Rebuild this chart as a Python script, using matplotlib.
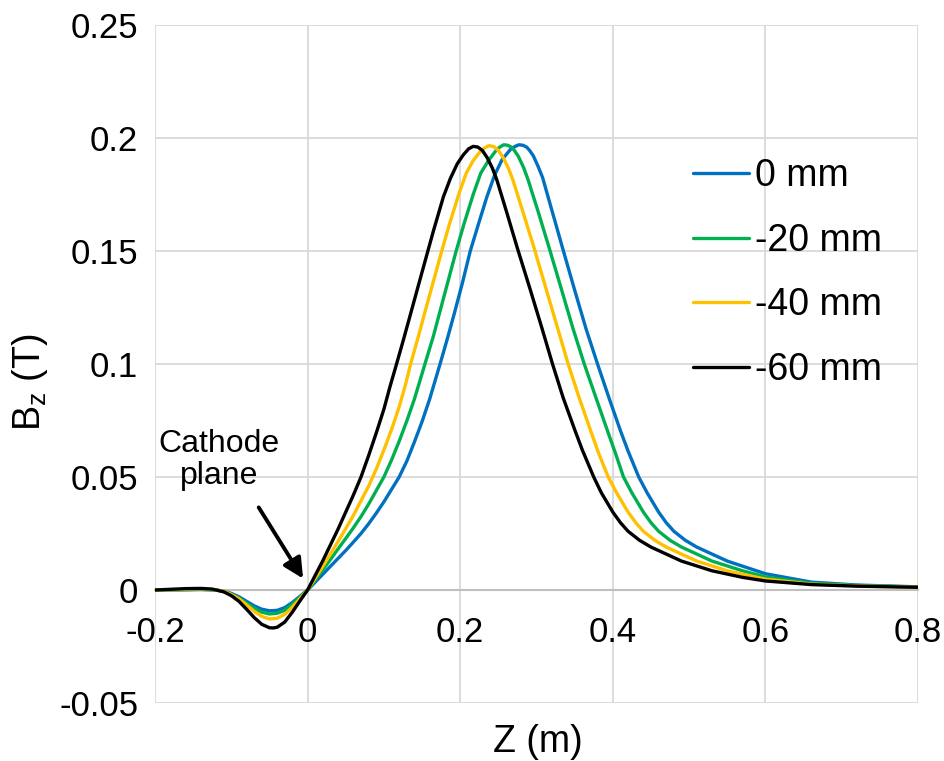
import matplotlib
matplotlib.use("Agg")
import matplotlib.pyplot as plt

plt.rcParams['font.family'] = ['Liberation Sans', 'DejaVu Sans']
plt.rcParams['mathtext.fontset'] = 'custom'
plt.rcParams['mathtext.rm'] = 'Liberation Sans'

# Z (m) and Bz (T), one list pair per offset
z_0 = [-0.2, -0.16, -0.14, -0.12, -0.11, -0.10, -0.09, -0.08, -0.07, -0.06, -0.05,
       -0.04, -0.03, -0.02, -0.01, 0.0, 0.01, 0.02, 0.03, 0.04, 0.05, 0.06, 0.07,
       0.08, 0.09, 0.10, 0.11, 0.12, 0.13, 0.14, 0.15, 0.16, 0.1736, 0.183, 0.192,
       0.203, 0.2132, 0.224, 0.235, 0.245, 0.255, 0.266, 0.272, 0.277, 0.282, 0.287,
       0.291, 0.296, 0.302, 0.308, 0.321, 0.334, 0.35, 0.365, 0.38, 0.395, 0.41, 0.42,
       0.434, 0.445, 0.46, 0.47, 0.48, 0.495, 0.51, 0.55, 0.60, 0.66, 0.72, 0.80]
b_0 = [0.0, 0.0001, 0.0002, 0.0, -0.0006, -0.0015, -0.003, -0.005, -0.007, -0.0085, -0.0092,
       -0.009, -0.0078, -0.0055, -0.0028, 0.0, 0.0035, 0.007, 0.0105, 0.014, 0.0175, 0.0212, 0.025,
       0.0293, 0.034, 0.039, 0.0445, 0.050, 0.057, 0.0655, 0.0745, 0.0845, 0.100, 0.111, 0.122,
       0.136, 0.150, 0.162, 0.174, 0.1835, 0.1905, 0.195, 0.1963, 0.197, 0.1968, 0.196,
       0.1945, 0.192, 0.1875, 0.1825, 0.167, 0.1515, 0.1327, 0.1155, 0.100, 0.085, 0.0705, 0.0615,
       0.050, 0.043, 0.0345, 0.0298, 0.026, 0.022, 0.019, 0.0128, 0.0072, 0.0035, 0.0022, 0.0014]

z_20 = [-0.2, -0.16, -0.14, -0.12, -0.11, -0.10, -0.09, -0.08, -0.07, -0.06, -0.05,
        -0.04, -0.03, -0.02, -0.01, 0.0, 0.01, 0.02, 0.03, 0.04, 0.05, 0.06, 0.07,
        0.08, 0.09, 0.10, 0.11, 0.12, 0.13, 0.14, 0.1538, 0.165, 0.18, 0.1947, 0.205,
        0.217, 0.227, 0.237, 0.247, 0.252, 0.257, 0.262, 0.267, 0.271, 0.276, 0.283,
        0.289, 0.303, 0.3165, 0.333, 0.348, 0.3626, 0.378, 0.394, 0.404, 0.414, 0.425,
        0.44, 0.45, 0.46, 0.475, 0.49, 0.53, 0.57, 0.60, 0.66, 0.72, 0.80]
b_20 = [0.0, 0.0002, 0.0003, 0.0001, -0.0007, -0.0018, -0.0035, -0.0058, -0.0081, -0.0098, -0.0106,
        -0.0103, -0.009, -0.0063, -0.0032, 0.0, 0.0045, 0.009, 0.0135, 0.0182, 0.0228, 0.0275, 0.0325,
        0.038, 0.044, 0.050, 0.0575, 0.0658, 0.0748, 0.0845, 0.100, 0.1125, 0.1315, 0.150, 0.162,
        0.175, 0.1845, 0.190, 0.1945, 0.196, 0.197, 0.1968, 0.196, 0.1945, 0.192, 0.187,
        0.1815, 0.1665, 0.1515, 0.1327, 0.1155, 0.100, 0.085, 0.0695, 0.060, 0.050, 0.043,
        0.0345, 0.0298, 0.026, 0.022, 0.019, 0.0128, 0.0085, 0.0058, 0.003, 0.002, 0.0013]

z_40 = [-0.2, -0.16, -0.14, -0.125, -0.11, -0.10, -0.09, -0.08, -0.07, -0.06, -0.05,
        -0.04, -0.03, -0.02, -0.01, 0.0, 0.01, 0.02, 0.03, 0.04, 0.05, 0.06, 0.07,
        0.08, 0.09, 0.10, 0.11, 0.12, 0.128, 0.135, 0.145, 0.155, 0.1758, 0.186, 0.198,
        0.208, 0.217, 0.225, 0.232, 0.2374, 0.244, 0.250, 0.256, 0.263, 0.269, 0.283,
        0.2967, 0.313, 0.328, 0.3415, 0.356, 0.372, 0.382, 0.394, 0.405, 0.42, 0.43,
        0.44, 0.455, 0.47, 0.51, 0.55, 0.60, 0.66, 0.72, 0.80]
b_40 = [0.0, 0.0003, 0.0005, 0.0003, -0.0006, -0.002, -0.0039, -0.0066, -0.0094, -0.0117, -0.0128,
        -0.0125, -0.0108, -0.0076, -0.0038, 0.0, 0.0052, 0.0105, 0.016, 0.0215, 0.0272, 0.033, 0.0395,
        0.046, 0.0535, 0.062, 0.071, 0.081, 0.0905, 0.100, 0.112, 0.1245, 0.150, 0.162, 0.175,
        0.1845, 0.190, 0.1935, 0.1956, 0.1966, 0.1962, 0.1945, 0.1915, 0.1868, 0.1815, 0.1665,
        0.1515, 0.1327, 0.1155, 0.100, 0.085, 0.0695, 0.060, 0.050, 0.043, 0.0345, 0.0298,
        0.026, 0.022, 0.019, 0.0128, 0.0085, 0.0048, 0.0026, 0.0018, 0.0012]

z_60 = [-0.2, -0.18, -0.16, -0.14, -0.125, -0.11, -0.10, -0.09, -0.08, -0.07, -0.06,
        -0.05, -0.045, -0.04, -0.03, -0.02, -0.01, 0.0, 0.01, 0.02, 0.03, 0.04, 0.05,
        0.06, 0.07, 0.08, 0.09, 0.10, 0.108, 0.117, 0.125, 0.134, 0.147, 0.156, 0.165,
        0.178, 0.187, 0.196, 0.204, 0.211, 0.217, 0.223, 0.229, 0.235, 0.242, 0.248,
        0.2615, 0.2747, 0.292, 0.307, 0.321, 0.335, 0.35, 0.36, 0.375, 0.385, 0.40, 0.41,
        0.42, 0.435, 0.45, 0.49, 0.53, 0.57, 0.60, 0.66, 0.72, 0.80]
b_60 = [0.0, 0.0003, 0.0006, 0.0007, 0.0004, -0.0008, -0.0025, -0.005, -0.0085, -0.0122, -0.0152,
        -0.0167, -0.0168, -0.0165, -0.0142, -0.0098, -0.0048, 0.0, 0.0065, 0.013, 0.020, 0.027, 0.0345,
        0.042, 0.050, 0.0595, 0.0695, 0.080, 0.090, 0.1005, 0.110, 0.121, 0.137, 0.148, 0.159,
        0.174, 0.182, 0.1885, 0.1925, 0.1952, 0.1963, 0.196, 0.1945, 0.1915, 0.1868, 0.1815,
        0.1665, 0.1515, 0.1327, 0.116, 0.100, 0.085, 0.071, 0.062, 0.050, 0.043, 0.0345, 0.0298,
        0.026, 0.022, 0.019, 0.0128, 0.0085, 0.0056, 0.004, 0.0024, 0.0017, 0.0012]

labels = ['0 mm', '-20 mm', '-40 mm', '-60 mm']
colors = ['#0070C0', '#00B050', '#FFC000', '#000000']

x_ticks = [-0.2, 0, 0.2, 0.4, 0.6, 0.8]
x_ticklabels = ['-0.2', '0', '0.2', '0.4', '0.6', '0.8']
y_ticks = [-0.05, 0, 0.05, 0.1, 0.15, 0.2, 0.25]
y_ticklabels = ['-0.05', '0', '0.05', '0.1', '0.15', '0.2', '0.25']

fig = plt.figure(figsize=(9.44, 7.61), dpi=100)
ax = fig.add_axes([155 / 944, 1 - 703 / 761, (918 - 155) / 944, (703 - 25) / 761])

series = [(z_0, b_0), (z_20, b_20), (z_40, b_40), (z_60, b_60)]
for (z, b), lab, col in zip(series, labels, colors):
    ax.plot(z, b, color=col, lw=2.4, label=lab, zorder=3,
            solid_capstyle='round', solid_joinstyle='round')

ax.set_xlim(-0.2, 0.8)
ax.set_ylim(-0.05, 0.25)
ax.set_xticks(x_ticks)
ax.set_xticklabels(x_ticklabels)
ax.set_yticks(y_ticks)
ax.set_yticklabels(y_ticklabels)
ax.grid(True, color='#d9d9d9', lw=1.3)
ax.set_axisbelow(True)

for side in ['top', 'right', 'left']:
    ax.spines[side].set_visible(False)
ax.spines['bottom'].set_position(('data', 0))
ax.spines['bottom'].set_color('#bfbfbf')
ax.spines['bottom'].set_linewidth(1.5)
ax.spines['bottom'].set_zorder(2)
ax.tick_params(axis='both', length=0, labelsize=25)
ax.tick_params(axis='x', pad=19)
ax.tick_params(axis='y', pad=12)

fig.text(538 / 944, 1 - 742 / 761, 'Z (m)', ha='center', va='center', fontsize=27)
fig.text(30 / 944, 1 - 382 / 761, r'B$_\mathrm{z}$ (T)', ha='center', va='center',
         rotation=90, fontsize=27)

ax.text(-0.116, 0.0575, 'Cathode\nplane', ha='center', va='center', fontsize=23,
        linespacing=1.1)
ax.annotate('', xy=(-0.004, 0.004), xytext=(-0.066, 0.0376),
            arrowprops=dict(arrowstyle='-|>', lw=2.8, color='black', mutation_scale=30))

ax.legend(loc='center left', bbox_to_anchor=(693 / 944, 1 - 273 / 761),
          bbox_transform=fig.transFigure, frameon=False, fontsize=27,
          handlelength=1.5, handletextpad=0.16, labelspacing=0.76, borderpad=0,
          borderaxespad=0)

fig.savefig('out.png', dpi=100)
